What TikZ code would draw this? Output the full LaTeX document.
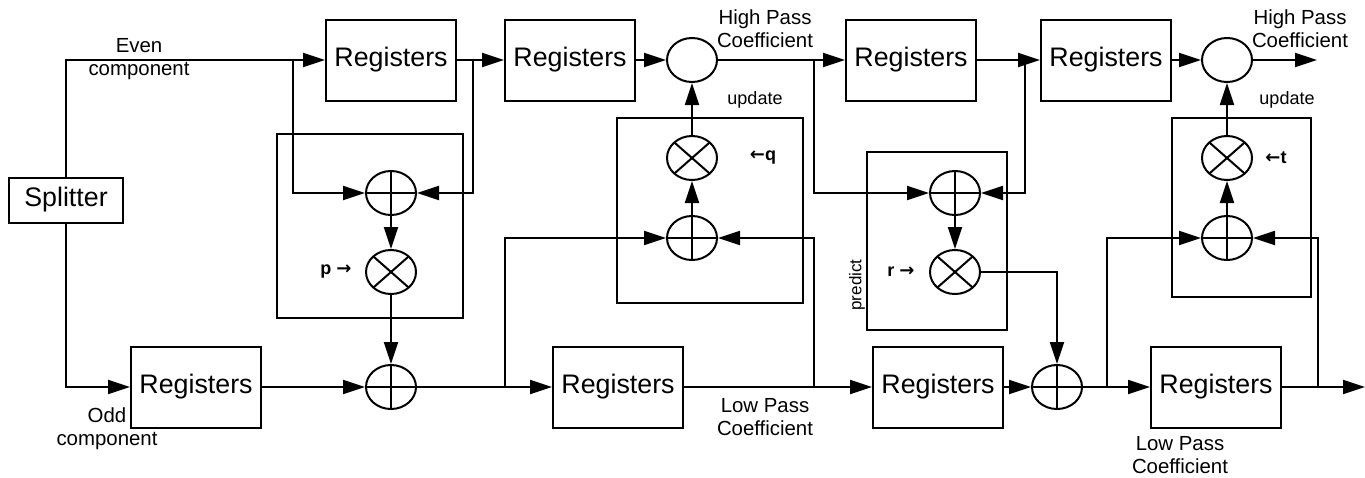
\documentclass[tikz,border=0pt]{standalone}
\usepackage{fontspec}
\setmainfont{Liberation Sans}
\newfontfamily\arrfont{DejaVu Sans}
\usetikzlibrary{arrows.meta,shapes.geometric}
\newcommand{\rarr}{{\arrfont\bfseries →}}
\newcommand{\larr}{{\arrfont\bfseries ←}}
\begin{document}
\begin{tikzpicture}[x=1pt,y=-1pt,
  every path/.style={line width=2pt},
  arr/.style={-{Triangle[length=22pt,width=14pt]}},
  regbox/.style={draw,line width=2pt,minimum width=130pt,minimum height=81pt,inner sep=0pt,font=\fontsize{26.8}{30}\selectfont},
  splitbox/.style={draw,line width=2pt,minimum width=114pt,minimum height=45pt,inner sep=0pt,font=\fontsize{26.8}{30}\selectfont},
  circ/.style={draw,ellipse,line width=2pt,minimum width=50pt,minimum height=44pt,inner sep=0pt},
  plusc/.style={circ,path picture={\draw[line width=2pt] (path picture bounding box.north) -- (path picture bounding box.south) (path picture bounding box.west) -- (path picture bounding box.east);}},
  timesc/.style={circ,path picture={\draw[line width=2pt] (path picture bounding box.north west) -- (path picture bounding box.south east) (path picture bounding box.south west) -- (path picture bounding box.north east);}},
  lab/.style={align=center,inner sep=0pt,font=\fontsize{20.4}{23}\selectfont},
  smalllab/.style={inner sep=0pt,font=\fontsize{18}{20}\selectfont},
  coef/.style={inner sep=0pt,font=\bfseries\fontsize{18}{20}\selectfont},
  frame/.style={draw,line width=2pt}
]
\useasboundingbox (0,0) rectangle (1365,477);

% frames
\draw[frame] (277,134) rectangle (463,318);
\draw[frame] (617,118) rectangle (803,303);
\draw[frame] (867,152) rectangle (1007,330);
\draw[frame] (1172,118) rectangle (1311,297);

% boxes
\node[splitbox] (split) at (66,200) {Splitter};
\node[regbox] (r1) at (391,60) {Registers};
\node[regbox] (r2) at (570,60) {Registers};
\node[regbox] (r5) at (911,60) {Registers};
\node[regbox] (r6) at (1106,60) {Registers};
\node[regbox] (ro) at (196,387) {Registers};
\node[regbox] (r3) at (618,387) {Registers};
\node[regbox] (r4) at (938,387) {Registers};
\node[regbox] (r7) at (1216,387) {Registers};

% circles
\node[plusc] (pa) at (391,193) {};
\node[timesc] (ma) at (391,272) {};
\node[plusc] (pb) at (391,387) {};
\node[circ] (c1) at (692,60) {};
\node[timesc] (mq) at (692,158) {};
\node[plusc] (pq) at (692,238) {};
\node[plusc] (pc) at (955,193) {};
\node[timesc] (mr) at (955,272) {};
\node[plusc] (pd) at (1057,387) {};
\node[circ] (c2) at (1227,60) {};
\node[timesc] (mt) at (1227,158) {};
\node[plusc] (pt) at (1227,238) {};

% junctions and ends
\coordinate (je) at (293,60);
\coordinate (j1) at (473,60);
\coordinate (jl1) at (505,387);
\coordinate (jl2) at (814,387);
\coordinate (jh1) at (814,60);
\coordinate (jh2) at (1025,60);
\coordinate (jl3) at (1107,387);
\coordinate (jl4) at (1318,387);
\coordinate (outh) at (1317,60);
\coordinate (outl) at (1365,387);

% connectors
\draw[arr] (split.north) |- (r1.west);
\draw[arr] (je) |- (pa.west);
\draw[arr] (r1.east) -- (r2.west);
\draw[arr] (j1) |- (pa.east);
\draw[arr] (pa.south) -- (ma.north);
\draw[arr] (ma.south) -- (pb.north);
\draw[arr] (split.south) |- (ro.west);
\draw[arr] (ro.east) -- (pb.west);
\draw[arr] (pb.east) -- (r3.west);
\draw[arr] (jl1) |- (pq.west);
\draw[arr] (r3.east) -- (r4.west);
\draw[arr] (jl2) |- (pq.east);
\draw[arr] (pq.north) -- (mq.south);
\draw[arr] (mq.north) -- (c1.south);
\draw[arr] (r2.east) -- (c1.west);
\draw[arr] (c1.east) -- (r5.west);
\draw[arr] (jh1) |- (pc.west);
\draw[arr] (r5.east) -- (r6.west);
\draw[arr] (jh2) |- (pc.east);
\draw[arr] (pc.south) -- (mr.north);
\draw[arr] (mr.east) -| (pd.north);
\draw[arr] (r4.east) -- (pd.west);
\draw[arr] (pd.east) -- (r7.west);
\draw[arr] (jl3) |- (pt.west);
\draw[arr] (r7.east) -- (outl);
\draw[arr] (jl4) |- (pt.east);
\draw[arr] (pt.north) -- (mt.south);
\draw[arr] (mt.north) -- (c2.south);
\draw[arr] (r6.east) -- (c2.west);
\draw[arr] (c2.east) -- (outh);

% labels
\node[lab] (leven) at (139,59) {Even\\component};
\node[lab] (lodd) at (107,429) {Odd\\component};
\node[lab] (lh1) at (765,29) {High Pass\\Coefficient};
\node[lab] (lh2) at (1300,29) {High Pass\\Coefficient};
\node[lab] (ll1) at (765,417) {Low Pass\\Coefficient};
\node[lab] (ll2) at (1180,455) {Low Pass\\Coefficient};
\node[smalllab] (lu1) at (755,100) {update};
\node[smalllab] (lu2) at (1287,100) {update};
\node[smalllab,rotate=90,font=\fontsize{17}{19}\selectfont] (lpr) at (857,285) {predict};
\node[coef] (lq) at (763,158) {\larr q};
\node[coef] (lt) at (1276,158) {\larr t};
\node[coef] (lp) at (336,272) {p \rarr};
\node[coef] (lr) at (901,272) {r \rarr};
\end{tikzpicture}
\end{document}
